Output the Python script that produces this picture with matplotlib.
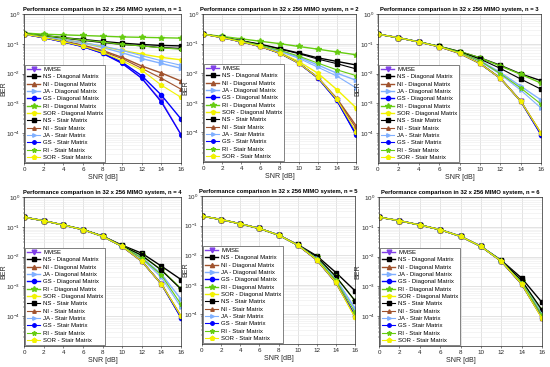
import matplotlib
matplotlib.use("Agg")
import matplotlib.pyplot as plt
import matplotlib.transforms as mtransforms
from matplotlib.ticker import LogLocator, NullFormatter, FixedLocator

plt.rcParams['font.family'] = ['Liberation Sans', 'DejaVu Sans']

snr = [0, 2, 4, 6, 8, 10, 12, 14, 16]

labels = ["MMSE", "NS - Diagonal Matrix", "NI - Diagonal Matrix", "JA - Diagonal Matrix",
          "GS - Diagonal Matrix", "RI - Diagonal Matrix", "SOR - Diagonal Matrix",
          "NS - Stair Matrix", "NI - Stair Matrix", "JA - Stair Matrix",
          "GS - Stair Matrix", "RI - Stair Matrix", "SOR - Stair Matrix"]

mmse = [0.21, 0.16, 0.115, 0.08, 0.048, 0.022, 0.007, 0.0012, 0.00009]

# n = 1
n1_ns_d = [0.22, 0.19, 0.16, 0.14, 0.12, 0.105, 0.095, 0.088, 0.085]
n1_ni_d = [0.21, 0.165, 0.125, 0.09, 0.06, 0.035, 0.018, 0.0105, 0.0056]
n1_ja_d = [0.21, 0.17, 0.135, 0.105, 0.075, 0.05, 0.032, 0.022, 0.015]
n1_gs_d = [0.21, 0.16, 0.117, 0.082, 0.05, 0.024, 0.0085, 0.0019, 0.0003]
n1_ri_d = [0.23, 0.21, 0.2, 0.19, 0.18, 0.17, 0.165, 0.16, 0.155]
n1_sor_d = [0.21, 0.175, 0.14, 0.11, 0.08, 0.06, 0.045, 0.035, 0.029]
n1_ns_s = [0.22, 0.185, 0.155, 0.13, 0.11, 0.095, 0.085, 0.075, 0.07]
n1_ni_s = [0.21, 0.163, 0.12, 0.087, 0.055, 0.032, 0.015, 0.007, 0.003]
n1_ja_s = [0.21, 0.17, 0.14, 0.11, 0.085, 0.06, 0.04, 0.027, 0.019]
n1_gs_s = [0.21, 0.16, 0.115, 0.08, 0.048, 0.022, 0.007, 0.0011, 0.00009]
n1_ri_s = [0.22, 0.19, 0.16, 0.135, 0.115, 0.095, 0.085, 0.073, 0.065]
n1_sor_s = [0.21, 0.162, 0.118, 0.083, 0.052, 0.027, 0.013, 0.0041, 0.0016]

# n = 2
n2_ns_d = [0.21, 0.165, 0.125, 0.095, 0.068, 0.048, 0.033, 0.025, 0.019]
n2_ni_d = [0.21, 0.16, 0.115, 0.08, 0.048, 0.022, 0.0072, 0.0014, 0.00017]
n2_ja_d = [0.21, 0.162, 0.12, 0.087, 0.058, 0.035, 0.019, 0.01, 0.0058]
n2_gs_d = [0.21, 0.16, 0.115, 0.08, 0.048, 0.022, 0.007, 0.0012, 0.00009]
n2_ri_d = [0.21, 0.175, 0.145, 0.12, 0.1, 0.08, 0.065, 0.052, 0.042]
n2_sor_d = [0.21, 0.16, 0.116, 0.081, 0.05, 0.025, 0.01, 0.0028, 0.00068]
n2_ns_s = [0.21, 0.164, 0.123, 0.093, 0.066, 0.046, 0.03, 0.021, 0.014]
n2_ni_s = [0.21, 0.16, 0.115, 0.08, 0.048, 0.022, 0.0071, 0.0013, 0.00014]
n2_ja_s = [0.21, 0.161, 0.118, 0.085, 0.055, 0.032, 0.016, 0.008, 0.0032]
n2_gs_s = [0.21, 0.16, 0.115, 0.08, 0.048, 0.022, 0.007, 0.0012, 0.00008]
n2_ri_s = [0.21, 0.163, 0.12, 0.088, 0.06, 0.038, 0.022, 0.013, 0.0083]
n2_sor_s = [0.21, 0.16, 0.115, 0.08, 0.048, 0.022, 0.0072, 0.0013, 0.000107]

# n = 3
n3_ns_d = [0.21, 0.16, 0.116, 0.082, 0.055, 0.034, 0.019, 0.0098, 0.0058]
n3_ni_d = [0.21, 0.16, 0.115, 0.08, 0.048, 0.022, 0.007, 0.0012, 0.0001]
n3_ja_d = [0.21, 0.16, 0.116, 0.081, 0.052, 0.028, 0.011, 0.0038, 0.0013]
n3_gs_d = [0.21, 0.16, 0.115, 0.08, 0.048, 0.022, 0.007, 0.0012, 0.00009]
n3_ri_d = [0.21, 0.16, 0.116, 0.082, 0.055, 0.034, 0.018, 0.0095, 0.0048]
n3_sor_d = [0.21, 0.16, 0.115, 0.08, 0.048, 0.022, 0.007, 0.0012, 0.0001]
n3_ns_s = [0.21, 0.16, 0.116, 0.082, 0.054, 0.031, 0.015, 0.0066, 0.003]
n3_ni_s = [0.21, 0.16, 0.115, 0.08, 0.048, 0.022, 0.007, 0.0012, 0.0001]
n3_ja_s = [0.21, 0.16, 0.115, 0.081, 0.051, 0.026, 0.0095, 0.0028, 0.0007]
n3_gs_s = [0.21, 0.16, 0.115, 0.08, 0.048, 0.022, 0.007, 0.0012, 0.00009]
n3_ri_s = [0.21, 0.16, 0.116, 0.081, 0.052, 0.027, 0.01, 0.0033, 0.00095]
n3_sor_s = [0.21, 0.16, 0.115, 0.08, 0.048, 0.022, 0.007, 0.0012, 0.0001]

# n = 4
n4_ns_d = [0.21, 0.16, 0.115, 0.081, 0.049, 0.024, 0.013, 0.0048, 0.0017]
n4_ni_d = [0.21, 0.16, 0.115, 0.08, 0.048, 0.022, 0.007, 0.0012, 0.0001]
n4_ja_d = [0.21, 0.16, 0.115, 0.08, 0.048, 0.022, 0.0095, 0.0026, 0.00037]
n4_gs_d = [0.21, 0.16, 0.115, 0.08, 0.048, 0.022, 0.007, 0.0012, 0.00009]
n4_ri_d = [0.21, 0.16, 0.115, 0.081, 0.049, 0.023, 0.011, 0.0036, 0.00085]
n4_sor_d = [0.21, 0.16, 0.115, 0.08, 0.048, 0.022, 0.007, 0.0012, 0.0001]
n4_ns_s = [0.21, 0.16, 0.115, 0.081, 0.049, 0.023, 0.011, 0.0035, 0.0008]
n4_ni_s = [0.21, 0.16, 0.115, 0.08, 0.048, 0.022, 0.007, 0.0012, 0.0001]
n4_ja_s = [0.21, 0.16, 0.115, 0.08, 0.048, 0.022, 0.0085, 0.002, 0.0002]
n4_gs_s = [0.21, 0.16, 0.115, 0.08, 0.048, 0.022, 0.007, 0.0012, 0.00009]
n4_ri_s = [0.21, 0.16, 0.115, 0.08, 0.048, 0.022, 0.009, 0.0024, 0.00025]
n4_sor_s = [0.21, 0.16, 0.115, 0.08, 0.048, 0.022, 0.007, 0.0012, 0.0001]

# n = 5
n5_ns_d = [0.21, 0.16, 0.115, 0.08, 0.048, 0.023, 0.0095, 0.0026, 0.00063]
n5_ni_d = [0.21, 0.16, 0.115, 0.08, 0.048, 0.022, 0.007, 0.0012, 0.00009]
n5_ja_d = [0.21, 0.16, 0.115, 0.08, 0.048, 0.022, 0.008, 0.0016, 0.00016]
n5_gs_d = [0.21, 0.16, 0.115, 0.08, 0.048, 0.022, 0.007, 0.0012, 0.00009]
n5_ri_d = [0.21, 0.16, 0.115, 0.08, 0.048, 0.022, 0.0085, 0.0019, 0.00029]
n5_sor_d = [0.21, 0.16, 0.115, 0.08, 0.048, 0.022, 0.007, 0.0012, 0.00008]
n5_ns_s = [0.21, 0.16, 0.115, 0.08, 0.048, 0.022, 0.0088, 0.0019, 0.00029]
n5_ni_s = [0.21, 0.16, 0.115, 0.08, 0.048, 0.022, 0.007, 0.0012, 0.00009]
n5_ja_s = [0.21, 0.16, 0.115, 0.08, 0.048, 0.022, 0.0078, 0.0015, 0.00015]
n5_gs_s = [0.21, 0.16, 0.115, 0.08, 0.048, 0.022, 0.007, 0.0012, 0.00009]
n5_ri_s = [0.21, 0.16, 0.115, 0.08, 0.048, 0.022, 0.0075, 0.0014, 0.00012]
n5_sor_s = [0.21, 0.16, 0.115, 0.08, 0.048, 0.022, 0.007, 0.0012, 0.00008]

# n = 6
n6_ns_d = [0.21, 0.16, 0.115, 0.08, 0.048, 0.022, 0.0075, 0.0019, 0.00029]
n6_ni_d = [0.21, 0.16, 0.115, 0.08, 0.048, 0.022, 0.007, 0.0012, 0.00009]
n6_ja_d = [0.21, 0.16, 0.115, 0.08, 0.048, 0.022, 0.0072, 0.0014, 0.00014]
n6_gs_d = [0.21, 0.16, 0.115, 0.08, 0.048, 0.022, 0.007, 0.0012, 0.00009]
n6_ri_d = [0.21, 0.16, 0.115, 0.08, 0.048, 0.022, 0.0073, 0.0015, 0.00016]
n6_sor_d = [0.21, 0.16, 0.115, 0.08, 0.048, 0.022, 0.007, 0.0012, 0.000085]
n6_ns_s = [0.21, 0.16, 0.115, 0.08, 0.048, 0.022, 0.0073, 0.0016, 0.00016]
n6_ni_s = [0.21, 0.16, 0.115, 0.08, 0.048, 0.022, 0.007, 0.0012, 0.00009]
n6_ja_s = [0.21, 0.16, 0.115, 0.08, 0.048, 0.022, 0.0071, 0.0013, 0.00012]
n6_gs_s = [0.21, 0.16, 0.115, 0.08, 0.048, 0.022, 0.007, 0.0012, 0.00009]
n6_ri_s = [0.21, 0.16, 0.115, 0.08, 0.048, 0.022, 0.0071, 0.0013, 0.00011]
n6_sor_s = [0.21, 0.16, 0.115, 0.08, 0.048, 0.022, 0.007, 0.0012, 0.000085]

panels = [
    [mmse, n1_ns_d, n1_ni_d, n1_ja_d, n1_gs_d, n1_ri_d, n1_sor_d, n1_ns_s, n1_ni_s, n1_ja_s, n1_gs_s, n1_ri_s, n1_sor_s],
    [mmse, n2_ns_d, n2_ni_d, n2_ja_d, n2_gs_d, n2_ri_d, n2_sor_d, n2_ns_s, n2_ni_s, n2_ja_s, n2_gs_s, n2_ri_s, n2_sor_s],
    [mmse, n3_ns_d, n3_ni_d, n3_ja_d, n3_gs_d, n3_ri_d, n3_sor_d, n3_ns_s, n3_ni_s, n3_ja_s, n3_gs_s, n3_ri_s, n3_sor_s],
    [mmse, n4_ns_d, n4_ni_d, n4_ja_d, n4_gs_d, n4_ri_d, n4_sor_d, n4_ns_s, n4_ni_s, n4_ja_s, n4_gs_s, n4_ri_s, n4_sor_s],
    [mmse, n5_ns_d, n5_ni_d, n5_ja_d, n5_gs_d, n5_ri_d, n5_sor_d, n5_ns_s, n5_ni_s, n5_ja_s, n5_gs_s, n5_ri_s, n5_sor_s],
    [mmse, n6_ns_d, n6_ni_d, n6_ja_d, n6_gs_d, n6_ri_d, n6_sor_d, n6_ns_s, n6_ni_s, n6_ja_s, n6_gs_s, n6_ri_s, n6_sor_s],
]

colors = ['#8040E8', '#000000', '#A0522D', '#80B0FF', '#0000FF', '#66CC11', '#F2F200',
          '#000000', '#A0522D', '#80B0FF', '#0000FF', '#66CC11', '#F2F200']
markers = ['v', 's', '^', '>', 'o', '*', 'p', 's', '^', '>', 'o', '*', 'p']
msizes = [3.4, 3.0, 3.0, 3.0, 3.0, 4.2, 3.6, 2.5, 2.5, 2.5, 2.5, 3.4, 3.2]
lwidths = [1.0, 1.0, 1.0, 1.0, 1.0, 1.0, 1.0, 0.8, 0.8, 0.8, 0.8, 0.8, 0.8]

# axes boxes in pixels: left, right, top, bottom
boxes = [(24, 181, 14, 163), (203, 356, 14, 162), (378, 541, 14, 163),
         (24, 181, 197, 346), (202, 355, 196, 344), (379, 542, 197, 346)]
ylabel_x = [7, 189, 361, 7, 189, 361]

W, H = 550, 367
fig = plt.figure(figsize=(5.5, 3.67), dpi=100)

for i, (series, box) in enumerate(zip(panels, boxes)):
    l, r, t, b = box
    ax = fig.add_axes([l / W, 1 - b / H, (r - l) / W, (b - t) / H])
    for k, y in enumerate(series):
        ax.semilogy(snr, y, color=colors[k], marker=markers[k], markersize=msizes[k],
                    linewidth=lwidths[k], label=labels[k])
    ax.set_xlim(0, 16)
    ax.set_ylim(1e-5, 1)
    ax.set_xticks(snr)
    ax.yaxis.set_major_locator(FixedLocator([1e-4, 1e-3, 1e-2, 1e-1, 1e0]))
    ax.yaxis.set_minor_locator(LogLocator(base=10, subs=range(2, 10), numticks=20))
    ax.yaxis.set_minor_formatter(NullFormatter())
    ax.grid(True, which='major', color='#d8d8d8', linewidth=0.5)
    ax.grid(True, which='minor', axis='y', color='#ececec', linewidth=0.4)
    ax.tick_params(labelsize=4.5, length=1.5, width=0.4, pad=1.5, colors='#262626')
    ax.tick_params(which='minor', length=0.8, width=0.3)
    for s in ax.spines.values():
        s.set_linewidth(0.5)
        s.set_color('#262626')
    ax.set_title(f"Performance comparison in 32 x 256 MIMO system, n = {i + 1}",
                 fontsize=4.25, fontweight='bold', pad=2.5)
    ax.set_xlabel("SNR [dB]", fontsize=5, labelpad=1.0, color='#262626')
    ax.set_ylabel("BER", fontsize=5, color='#262626')
    tr = mtransforms.blended_transform_factory(fig.transFigure, ax.transAxes)
    ax.yaxis.set_label_coords(ylabel_x[i] / W, 0.5, transform=tr)
    leg = ax.legend(loc='lower left', fontsize=4.3, labelspacing=0.36, handlelength=2.2,
                    handletextpad=0.5, borderpad=0.35, borderaxespad=0.15,
                    fancybox=False, framealpha=1, edgecolor='#262626')
    leg.get_frame().set_linewidth(0.4)

fig.savefig("out.png", dpi=100)
